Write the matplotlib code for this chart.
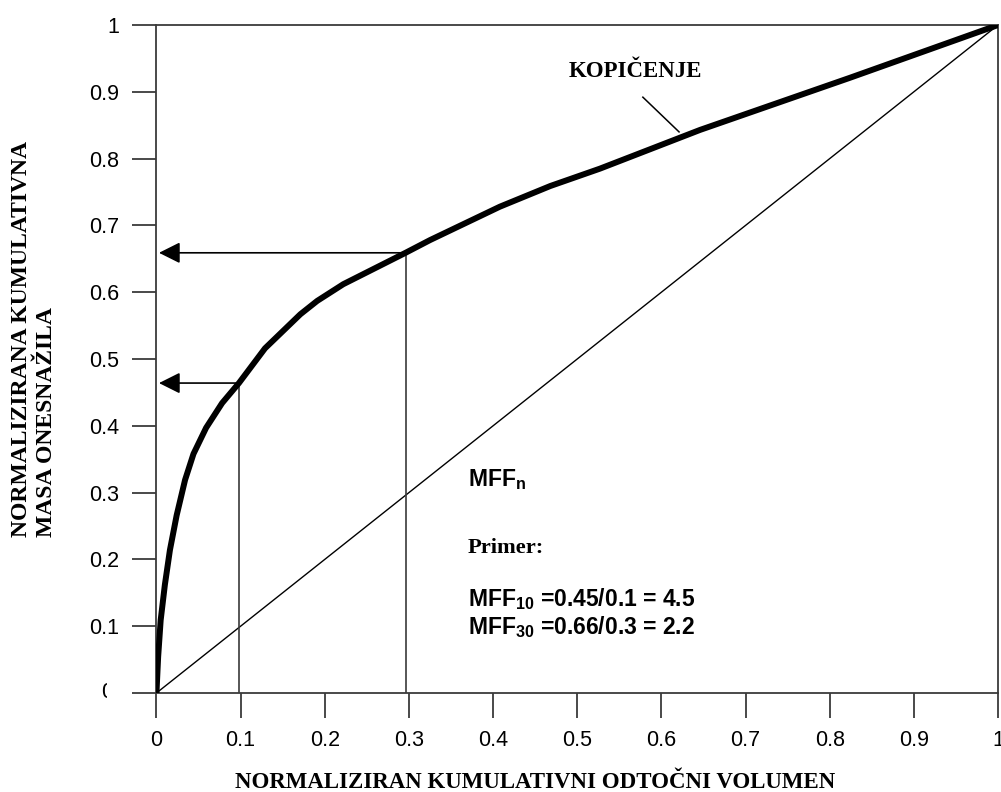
import matplotlib
matplotlib.use("Agg")
import matplotlib.pyplot as plt
from matplotlib.transforms import Bbox, TransformedBbox

# curve
curve_x = [0.0, 0.002, 0.005, 0.010, 0.016, 0.024, 0.034, 0.044, 0.059, 0.078,
           0.098, 0.129, 0.171, 0.191, 0.222, 0.296, 0.325, 0.408, 0.468, 0.527,
           0.646, 0.824, 1.0]
curve_y = [0.0, 0.054, 0.109, 0.162, 0.214, 0.266, 0.319, 0.358, 0.397, 0.434,
           0.464, 0.516, 0.567, 0.587, 0.612, 0.659, 0.678, 0.728, 0.759, 0.785,
           0.843, 0.921, 1.0]

diag_x = [0.0, 1.0]
diag_y = [0.0, 1.0]

# worked examples: MFF10 and MFF30 read-outs
examples_x = [0.098, 0.296]
examples_y = [0.464, 0.659]

ticks = [0, 0.1, 0.2, 0.3, 0.4, 0.5, 0.6, 0.7, 0.8, 0.9, 1]
tick_labels = ['0', '0.1', '0.2', '0.3', '0.4', '0.5', '0.6', '0.7', '0.8', '0.9', '1']

plt.rcParams['mathtext.fontset'] = 'custom'
plt.rcParams['mathtext.rm'] = 'Liberation Sans:bold'
plt.rcParams['mathtext.bf'] = 'Liberation Sans:bold'

line_col = '#3a3a3a'
sans = 'Liberation Sans'
serif = 'Liberation Serif'

fig = plt.figure(figsize=(10.01, 7.92), dpi=100)
ax = fig.add_axes([0.1563, 0.125, 0.8407, 0.8434])

ax.plot(diag_x, diag_y, color='black', linewidth=1.0, zorder=2)
ax.plot(curve_x, curve_y, color='black', linewidth=4.3,
        solid_capstyle='round', solid_joinstyle='round', zorder=4)

for vx, vy in zip(examples_x, examples_y):
    ax.plot([vx, vx], [0, vy], color=line_col, linewidth=1.2, zorder=3)
    ax.annotate('', xy=(0.003, vy), xytext=(vx, vy),
                arrowprops=dict(arrowstyle='-|>,head_length=1.0,head_width=0.5',
                                mutation_scale=13, color='black', lw=1.2,
                                shrinkA=0, shrinkB=0),
                zorder=3)

ax.set_xlim(0, 1)
ax.set_ylim(0, 1)
ax.set_xticks(ticks)
ax.set_xticklabels(tick_labels, fontfamily=sans, fontsize=15.5)
ax.set_yticks(ticks)
ax.set_yticklabels([''] + tick_labels[1:], fontfamily=sans, fontsize=15.5)
ax.tick_params(axis='y', direction='out', length=17, width=1.3, color=line_col, pad=10)
ax.tick_params(axis='x', direction='out', length=18, width=1.3, color=line_col, pad=8.5)
for sp in ax.spines.values():
    sp.set_color(line_col)
    sp.set_linewidth(1.3)

# the zero on the y axis is cut off in the original
zero = fig.text(101 / 1001, 1 - 692 / 792, '0', fontfamily=sans, fontsize=15.5,
                ha='left', va='center')
zero.set_clip_box(TransformedBbox(Bbox([[0, 0], [107 / 1001, 1]]), fig.transFigure))
zero.set_clip_on(True)

# curve label with leader line
ax.text(0.569, 0.930, 'KOPIČENJE', transform=ax.transAxes, fontfamily=serif,
        fontweight='bold', fontsize=16.5, ha='center', va='center')
ax.plot([0.578, 0.621], [0.892, 0.840], color='black', linewidth=1.1, zorder=3)

ax.text(0.370, 0.319, r'MFF$_\mathrm{n}$', transform=ax.transAxes, fontfamily=sans,
        fontweight='bold', fontsize=16.5, ha='left', va='center')
ax.text(0.370, 0.217, 'Primer:', transform=ax.transAxes, fontfamily=serif,
        fontweight='bold', fontsize=16.2, ha='left', va='center')
ax.text(0.370, 0.141, r'MFF$_\mathrm{10}$ =0.45/0.1 = 4.5', transform=ax.transAxes,
        fontfamily=sans, fontweight='bold', fontsize=16.5, ha='left', va='center')
ax.text(0.370, 0.099, r'MFF$_\mathrm{30}$ =0.66/0.3 = 2.2', transform=ax.transAxes,
        fontfamily=sans, fontweight='bold', fontsize=16.5, ha='left', va='center')

fig.text(535 / 1001, 1 - 782 / 792, 'NORMALIZIRAN KUMULATIVNI ODTOČNI VOLUMEN',
         fontfamily=serif, fontweight='bold', fontsize=16.5, ha='center', va='center')
fig.text(34 / 1001, 1 - 537 / 792, 'NORMALIZIRANA KUMULATIVNA\nMASA ONESNAŽILA',
         fontfamily=serif, fontweight='bold', fontsize=17, rotation=90,
         ha='center', va='bottom', multialignment='left', linespacing=1.2)

fig.savefig('out.png', dpi=100)
